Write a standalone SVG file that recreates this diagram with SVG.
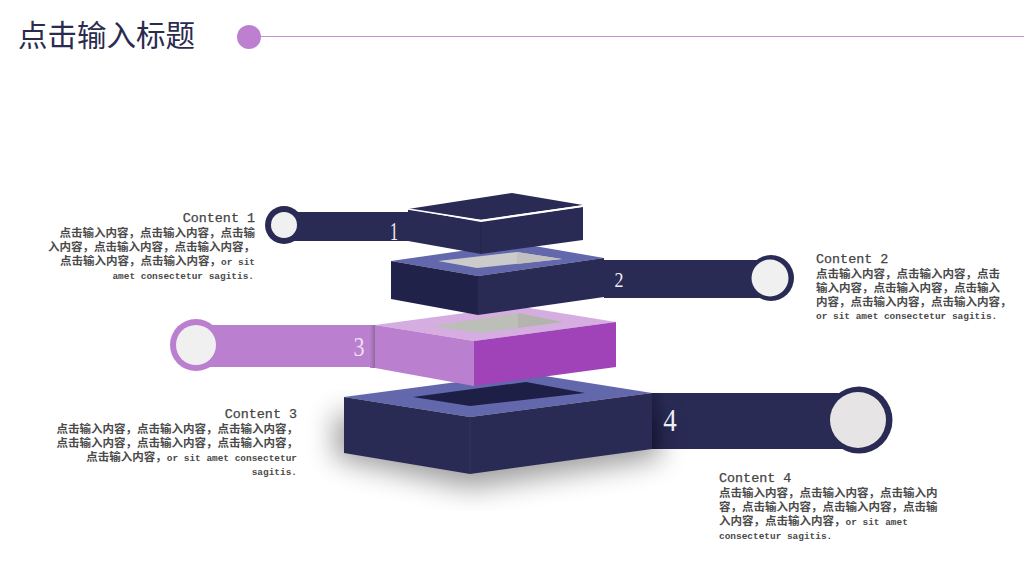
<svg xmlns="http://www.w3.org/2000/svg" width="1024" height="576" viewBox="0 0 1024 576">
<style>
.h{font-family:"Liberation Mono","Noto Sans CJK SC",monospace;font-size:13.4px;fill:#444;stroke:#444;stroke-width:.25px}
.b{font-family:"Noto Sans CJK SC","Liberation Mono",sans-serif;font-size:11.5px;font-weight:700;fill:#4a4a4a}
.b tspan{font-family:"Liberation Mono",monospace;font-size:9.45px}
.e{text-anchor:end}
.n{font-family:"Liberation Serif",serif;fill:#f0f0f4;text-anchor:middle}
.navy{fill:#2a2b55}.navyd{fill:#20224a}.blue{fill:#6367ac}.lil{fill:#bb7fcf}.vio{fill:#a042b8}.pale{fill:#d5ade1}
.disc{fill:#f0f0f0}
</style>
<defs>
<filter id="blur" x="-30%" y="-30%" width="160%" height="160%"><feGaussianBlur stdDeviation="14"/></filter>
<linearGradient id="barN"><stop offset="0" stop-color="#20214a"/><stop offset="1" stop-color="#2a2b55"/></linearGradient>
<linearGradient id="barL"><stop offset="0" stop-color="#bb7fcf"/><stop offset="1" stop-color="#8f6a9c"/></linearGradient>
</defs>
<rect width="1024" height="576" fill="#fff"/>
<g id="header">
<text x="18" y="46" font-family="Noto Sans CJK SC,sans-serif" font-size="29.5" fill="#2a2b4f">点击输入标题</text>
<line x1="258" y1="36.500" x2="1024" y2="36.500" stroke="#c58fd6" stroke-width="1"/>
<circle cx="249" cy="37" r="12" fill="#bd80d0"/>
</g>
<g id="connectors">
<rect x="292" y="212" width="117" height="29" class="navy"/>
<rect x="604" y="260" width="166" height="38" class="navy"/>
<rect x="205" y="325" width="170" height="42" class="lil"/>
<rect x="370" y="325" width="5" height="43" fill="url(#barL)"/>
<rect x="652" y="393" width="205" height="56" class="navy"/>
<rect x="652" y="393" width="14" height="56" fill="url(#barN)"/>
</g>
<g id="shadow"><polygon points="335,412 470,438 660,412 660,458 470,488 335,458" fill="#000" opacity=".38" filter="url(#blur)"/></g>
<g id="node-4">
<polygon points="344,397 526,373 652,393 470,417" class="blue"/>
<polygon points="413,397 526,382 585,393 470,406" fill="#1e1f47"/>
<polygon points="344,397 470,417 470,474 344,453" class="navy"/>
<polygon points="470,417 652,393 652,449 470,474" class="navy"/>
<line x1="470" y1="417" x2="470" y2="474" stroke="#3a3b68" stroke-width=".6"/>
<circle cx="859" cy="420" r="33.500" class="navy"/>
<circle cx="858" cy="420" r="28" fill="#e6e4e4"/>
<text x="670" y="431" font-size="31" class="n" textLength="13.500" lengthAdjust="spacingAndGlyphs">4</text>
<text x="719" y="482" class="h">Content 4</text>
<text x="719" y="497" class="b">点击输入内容，点击输入内容，点击输入内</text>
<text x="719" y="511" class="b">容，点击输入内容，点击输入内容，点击输</text>
<text x="719" y="525" class="b">入内容，点击输入内容，<tspan>or sit amet</tspan></text>
<text x="719" y="539" class="b"><tspan>consectetur sagitis.</tspan></text>
</g>
<g id="node-3">
<polygon points="375,325 517,306 616,322 474,341" class="pale"/>
<polygon points="432,326 518,313 563,322 480,333" fill="#bcbfb8"/>
<polygon points="518,313 563,322 518,328" fill="#b3b4ae"/>
<polygon points="375,325 474,341 474,386 375,368" class="lil"/>
<polygon points="474,341 616,322 616,367 474,386" class="vio"/>
<circle cx="196" cy="345" r="26" class="lil"/>
<circle cx="196" cy="345" r="20" class="disc"/>
<text x="359" y="356" font-size="28" class="n" style="fill:#f0dff5" textLength="11" lengthAdjust="spacingAndGlyphs">3</text>
<text x="297" y="418" class="h e">Content 3</text>
<text x="298" y="433" class="b e">点击输入内容，点击输入内容，点击输入内容，</text>
<text x="298" y="447" class="b e">点击输入内容，点击输入内容，点击输入内容，</text>
<text x="297" y="461" class="b e">点击输入内容，<tspan>or sit amet consectetur</tspan></text>
<text x="297" y="475" class="b e"><tspan>sagitis.</tspan></text>
</g>
<g id="node-2">
<polygon points="391,261 517,243 604,258 478,276" class="blue"/>
<polygon points="438,261 517,252 562,259 477,268" fill="#cbcbcb"/>
<polygon points="517,252 562,259 517,264" fill="#c0c0c0"/>
<polygon points="391,261 478,276 478,315 391,299" class="navyd"/>
<polygon points="478,276 604,258 604,297 478,315" class="navy"/>
<circle cx="771" cy="278" r="23" class="navy"/>
<circle cx="770" cy="278" r="18.500" class="disc"/>
<text x="619" y="287" font-size="21.500" class="n" textLength="9" lengthAdjust="spacingAndGlyphs">2</text>
<text x="816" y="263" class="h">Content 2</text>
<text x="816" y="278" class="b">点击输入内容，点击输入内容，点击</text>
<text x="816" y="292" class="b">输入内容，点击输入内容，点击输入</text>
<text x="816" y="306" class="b">内容，点击输入内容，点击输入内容，</text>
<text x="816" y="319" class="b"><tspan>or sit amet consectetur sagitis.</tspan></text>
</g>
<g id="node-1">
<polygon points="408,209 512,193 583,205 481,220" class="navy"/>
<polygon points="408,209 481,222 481,254 408,241" class="navy"/>
<polygon points="481,222 583,207 583,240 481,254" class="navy"/>
<line x1="481" y1="222" x2="481" y2="254" stroke="#23244b" stroke-width="1"/>
<polyline points="408,209 481,220.500 583,206" fill="none" stroke="#fff" stroke-width="1.600"/>
<circle cx="284" cy="225" r="19" class="navy"/>
<circle cx="284" cy="225" r="13" class="disc"/>
<text x="394" y="240" font-size="25.500" class="n" textLength="8" lengthAdjust="spacingAndGlyphs">1</text>
<text x="255" y="222" class="h e">Content 1</text>
<text x="255" y="237" class="b e">点击输入内容，点击输入内容，点击输</text>
<text x="255" y="251" class="b e">入内容，点击输入内容，点击输入内容，</text>
<text x="255" y="265" class="b e">点击输入内容，点击输入内容，<tspan>or sit</tspan></text>
<text x="254" y="279" class="b e"><tspan>amet consectetur sagitis.</tspan></text>
</g>
</svg>
